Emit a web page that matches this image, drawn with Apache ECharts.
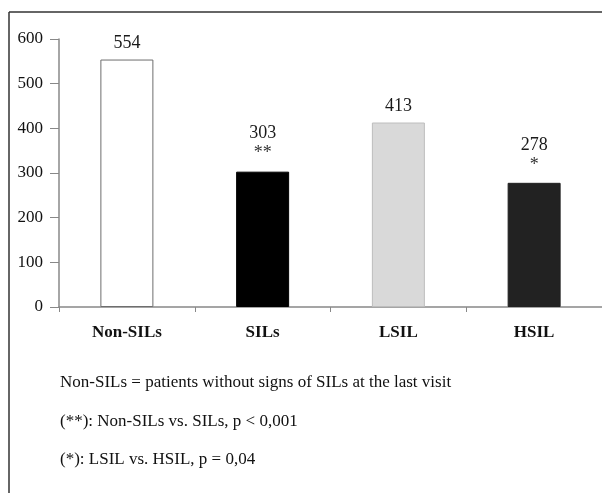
<!DOCTYPE html>
<html>
<head>
<meta charset="utf-8">
<script src="https://cdn.jsdelivr.net/npm/echarts@6/dist/echarts.min.js"></script>
<style>
html,body{margin:0;padding:0;background:#fff;}
#chart{width:602px;height:493px;}
</style>
</head>
<body>
<div id="chart"></div>
<script>
var categories = ['Non-SILs', 'SILs', 'LSIL', 'HSIL'];
var values = [554, 303, 413, 278];
var stars = ['', '**', '', '*'];
var yTicks = [0, 100, 200, 300, 400, 500, 600];
var notes = [
  'Non-SILs = patients without signs of SILs at the last visit',
  '(**): Non-SILs vs. SILs, p < 0,001',
  '(*): LSIL vs. HSIL, p = 0,04'
];

var fillColors = ['#ffffff', '#000000', '#d9d9d9', '#222222'];
var borderColors = ['#6e6e6e', '#000000', '#bdbdbd', '#222222'];
var serif = '"Liberation Serif", "DejaVu Serif", serif';

var chart = echarts.init(document.getElementById('chart'), null, {renderer: 'canvas'});

var data = values.map(function (v, i) {
  return {
    value: v,
    itemStyle: { color: fillColors[i], borderColor: borderColors[i], borderWidth: 1 },
    label: {
      show: true,
      position: 'top',
      distance: stars[i] ? 8 : 6,
      formatter: stars[i] ? ('{v|' + v + '}\n{s|' + stars[i] + '}') : ('{v|' + v + '}'),
      rich: {
        v: { fontFamily: serif, fontSize: 18, color: '#1a1a1a', lineHeight: 20 },
        s: { fontFamily: serif, fontSize: 18, color: '#333', lineHeight: 20 }
      }
    }
  };
});

var noteY = [384, 423, 461];
var graphics = [
  { type: 'line', shape: { x1: 9, y1: 12, x2: 602, y2: 12 }, style: { stroke: '#333', lineWidth: 1.5 } },
  { type: 'line', shape: { x1: 9, y1: 12, x2: 9, y2: 493 }, style: { stroke: '#333', lineWidth: 1.5 } }
];
notes.forEach(function (t, i) {
  graphics.push({
    type: 'text', left: 60, top: noteY[i] - 10,
    style: { text: t, font: '17px ' + serif, fill: '#111' }
  });
});

chart.setOption({
  animation: false,
  backgroundColor: '#fff',
  grid: { left: 59, right: 0, top: 39, bottom: 186, containLabel: false },
  xAxis: {
    type: 'category',
    data: categories,
    axisLine: { lineStyle: { color: '#888', width: 1.5 } },
    axisTick: { show: true, length: 5, lineStyle: { color: '#888' } },
    axisLabel: { margin: 17, fontFamily: serif, fontSize: 17, fontWeight: 'bold', color: '#111' }
  },
  yAxis: {
    type: 'value',
    min: yTicks[0],
    max: yTicks[yTicks.length - 1],
    interval: yTicks[1] - yTicks[0],
    splitLine: { show: false },
    axisLine: { show: true, lineStyle: { color: '#888', width: 1.5 } },
    axisTick: { show: true, length: 9, lineStyle: { color: '#888' } },
    axisLabel: { margin: 16, fontFamily: serif, fontSize: 17, color: '#111' }
  },
  series: [{
    type: 'bar',
    barWidth: 53,
    data: data
  }],
  graphic: graphics
});
</script>
</body>
</html>
